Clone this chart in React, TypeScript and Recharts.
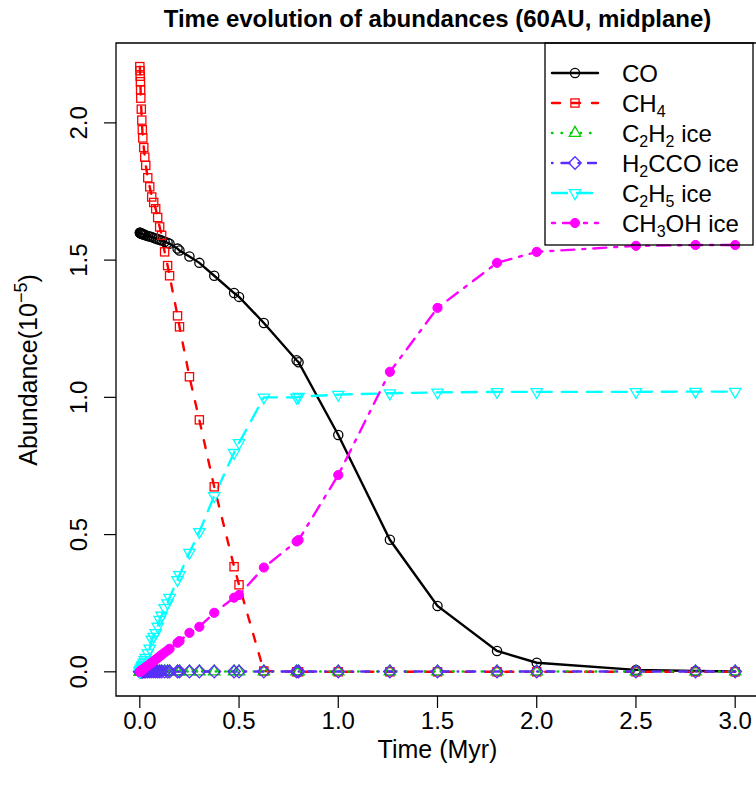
import React from "react";
import { LineChart, Line, XAxis, YAxis, ReferenceArea } from "recharts";

// time grid (Myr) shared by every species
const times = [
  0, 0.001, 0.002, 0.003, 0.004, 0.005, 0.0075, 0.01, 0.0125, 0.015,
  0.02, 0.025, 0.03, 0.04, 0.05, 0.06, 0.07, 0.08, 0.09, 0.1,
  0.11, 0.125, 0.14, 0.15, 0.19, 0.2, 0.25, 0.3, 0.375, 0.475,
  0.5, 0.625, 0.79, 0.8, 1.0, 1.26, 1.5, 1.8, 2.0, 2.5,
  2.8, 3.0,
];

// abundances in units of 1e-5
const co = [
  1.6, 1.6, 1.599, 1.599, 1.598, 1.598, 1.597, 1.596, 1.595, 1.594,
  1.593, 1.592, 1.59, 1.588, 1.586, 1.584, 1.581, 1.579, 1.576, 1.574,
  1.571, 1.567, 1.563, 1.56, 1.542, 1.535, 1.513, 1.49, 1.443, 1.38,
  1.366, 1.271, 1.135, 1.128, 0.863, 0.481, 0.24, 0.076, 0.033, 0.007,
  0.003, 0.001,
];
const ch4 = [
  2.205, 2.19, 2.17, 2.15, 2.12, 2.09, 2.05, 2.01, 1.975, 1.945,
  1.91, 1.875, 1.845, 1.8, 1.767, 1.73, 1.71, 1.687, 1.655, 1.621,
  1.59, 1.53, 1.48, 1.443, 1.297, 1.257, 1.075, 0.918, 0.674, 0.383,
  0.317, 0.003, 0, 0, 0, 0, 0, 0, 0, 0,
  0, 0,
];
const c2h2 = [
  0, 0.001, 0.001, 0.001, 0.001, 0.001, 0.001, 0.001, 0.001, 0.001,
  0.001, 0.001, 0.001, 0.001, 0.001, 0.001, 0.001, 0.001, 0.001, 0.001,
  0.001, 0.001, 0.001, 0.001, 0.001, 0.001, 0.001, 0.001, 0.001, 0.001,
  0.001, 0.001, 0.001, 0.001, 0.001, 0.001, 0.001, 0.001, 0.001, 0.001,
  0.001, 0.001,
];
const h2cco = [
  0, 0.001, 0.001, 0.001, 0.001, 0.001, 0.001, 0.001, 0.001, 0.001,
  0.001, 0.001, 0.001, 0.001, 0.001, 0.001, 0.001, 0.001, 0.001, 0.001,
  0.001, 0.001, 0.001, 0.001, 0.001, 0.001, 0.001, 0.001, 0.001, 0.001,
  0.001, 0.001, 0.001, 0.001, 0.001, 0.001, 0.001, 0.001, 0.001, 0.001,
  0.001, 0.001,
];
const c2h5 = [
  0, 0.002, 0.004, 0.005, 0.007, 0.009, 0.013, 0.017, 0.021, 0.026,
  0.034, 0.043, 0.051, 0.068, 0.085, 0.118, 0.128, 0.142, 0.165, 0.19,
  0.205, 0.233, 0.25, 0.27, 0.335, 0.353, 0.434, 0.51, 0.641, 0.798,
  0.834, 1.0, 1.0, 1.002, 1.01, 1.015, 1.018, 1.02, 1.02, 1.02,
  1.021, 1.021,
];
const ch3oh = [
  0, 0.001, 0.001, 0.002, 0.002, 0.003, 0.004, 0.006, 0.007, 0.008,
  0.011, 0.014, 0.017, 0.022, 0.028, 0.033, 0.039, 0.045, 0.05, 0.056,
  0.062, 0.07, 0.078, 0.084, 0.106, 0.112, 0.142, 0.164, 0.215, 0.27,
  0.28, 0.38, 0.475, 0.48, 0.717, 1.093, 1.326, 1.49, 1.53, 1.552,
  1.555, 1.555,
];

const xTicks = [0, 0.5, 1, 1.5, 2, 2.5, 3];
const yTicks = [0, 0.5, 1, 1.5, 2];

const rows = times.map((t, i) => ({
  t,
  co: co[i],
  ch4: ch4[i],
  c2h2: c2h2[i],
  h2cco: h2cco[i],
  c2h5: c2h5[i],
  ch3oh: ch3oh[i],
}));

const FONT = "'Liberation Sans', Arial, Helvetica, sans-serif";
const X_DOMAIN = [-0.12, 3.12];
const Y_DOMAIN = [-0.0881, 2.291];

type Kind = "circle" | "square" | "tri" | "diamond" | "triDown" | "dot";

function Mark({ kind, cx, cy, color }: { kind: Kind; cx: number; cy: number; color: string }) {
  const sw = 1.3;
  if (kind === "circle")
    return <circle cx={cx} cy={cy} r={4.6} fill="none" stroke={color} strokeWidth={sw} />;
  if (kind === "dot") return <circle cx={cx} cy={cy} r={4.6} fill={color} stroke={color} />;
  if (kind === "square")
    return <rect x={cx - 4.1} y={cy - 4.1} width={8.2} height={8.2} fill="none" stroke={color} strokeWidth={sw} />;
  if (kind === "diamond") {
    const d = 6.3;
    return (
      <polygon
        points={`${cx},${cy - d} ${cx + d},${cy} ${cx},${cy + d} ${cx - d},${cy}`}
        fill="none"
        stroke={color}
        strokeWidth={sw}
      />
    );
  }
  const r = 6.6;
  const hw = 5.7;
  const s = kind === "tri" ? 1 : -1;
  return (
    <polygon
      points={`${cx},${cy - s * r} ${cx + hw},${cy + (s * r) / 2} ${cx - hw},${cy + (s * r) / 2}`}
      fill="none"
      stroke={color}
      strokeWidth={sw}
    />
  );
}

const series = [
  { key: "co", kind: "circle" as Kind, color: "#000000", dash: undefined, label: ["CO"] },
  { key: "ch4", kind: "square" as Kind, color: "#ff0000", dash: "8 12", label: ["CH", "4", ""] },
  { key: "c2h2", kind: "tri" as Kind, color: "#00cd00", dash: "0.5 9", label: ["C", "2", "H", "2", " ice"] },
  { key: "h2cco", kind: "diamond" as Kind, color: "#5b2bff", dash: "0.5 9 8 9", label: ["H", "2", "CCO ice"] },
  { key: "c2h5", kind: "triDown" as Kind, color: "#00ffff", dash: "15 10", label: ["C", "2", "H", "5", " ice"] },
  { key: "ch3oh", kind: "dot" as Kind, color: "#ff00ff", dash: "3 8 13 8", label: ["CH", "3", "OH ice"] },
];

function YTick(props: any) {
  const { x, y, payload } = props;
  return (
    <text
      transform={`translate(${x - 17},${y}) rotate(-90)`}
      textAnchor="middle"
      fontSize={24}
      fontFamily={FONT}
      fill="#000"
    >
      {Number(payload.value).toFixed(1)}
    </text>
  );
}

function LegendText({ parts, x, y }: { parts: string[]; x: number; y: number }) {
  // odd positions are subscripts
  return (
    <text x={x} y={y} fontSize={24} fontFamily={FONT} fill="#000">
      {parts.map((p, i) =>
        i % 2 === 1 ? (
          <tspan key={i} fontSize={16} dy={5}>
            {p}
          </tspan>
        ) : (
          <tspan key={i} dy={i === 0 ? 0 : -5}>
            {p}
          </tspan>
        )
      )}
    </text>
  );
}

export default function App() {
  return (
    <div
      style={{
        position: "absolute",
        left: 0,
        top: 0,
        width: 756,
        height: 795,
        overflow: "hidden",
        background: "#fff",
      }}
    >
      <LineChart
        width={780}
        height={795}
        data={rows}
        margin={{ top: 43, right: 21, bottom: 39, left: 56 }}
      >
        <XAxis
          type="number"
          dataKey="t"
          domain={X_DOMAIN}
          allowDataOverflow
          ticks={xTicks}
          tickFormatter={(v: number) => v.toFixed(1)}
          tick={{ fontSize: 24, fill: "#000", fontFamily: FONT }}
          tickSize={12}
          tickMargin={4}
          tickLine={{ stroke: "#000", strokeWidth: 1.2 }}
          axisLine={false}
          height={60}
          interval={0}
        />
        <YAxis
          type="number"
          domain={Y_DOMAIN}
          allowDataOverflow
          ticks={yTicks}
          tick={<YTick />}
          tickSize={12}
          tickMargin={0}
          tickLine={{ stroke: "#000", strokeWidth: 1.2 }}
          axisLine={false}
          width={60}
          interval={0}
        />
        <ReferenceArea
          x1={X_DOMAIN[0]}
          x2={X_DOMAIN[1]}
          y1={Y_DOMAIN[0]}
          y2={Y_DOMAIN[1]}
          fill="none"
          stroke="#000"
          strokeWidth={1.3}
          ifOverflow="visible"
        />
        {series.map((s) => (
          <Line
            key={s.key}
            type="linear"
            dataKey={s.key}
            stroke={s.color}
            strokeWidth={2.4}
            strokeDasharray={s.dash}
            strokeLinecap="round"
            isAnimationActive={false}
            dot={(p: any) => (
              <Mark key={`${s.key}-${p.index}`} kind={s.kind} cx={p.cx} cy={p.cy} color={s.color} />
            )}
            activeDot={false}
          />
        ))}
      </LineChart>
      <svg
        width={756}
        height={795}
        style={{ position: "absolute", left: 0, top: 0, pointerEvents: "none" }}
      >
        <text x={437.5} y={27} textAnchor="middle" fontSize={24} fontWeight="bold" fontFamily={FONT}>
          Time evolution of abundances (60AU, midplane)
        </text>
        <text x={437.5} y={758} textAnchor="middle" fontSize={25} fontFamily={FONT}>
          Time (Myr)
        </text>
        <text
          transform="translate(37,370) rotate(-90)"
          textAnchor="middle"
          fontSize={25}
          fontFamily={FONT}
        >
          Abundance(10
          <tspan fontSize={18} dy={-10}>
            −5
          </tspan>
          <tspan dy={10}>)</tspan>
        </text>
        <rect x={545} y={43} width={208} height={202} fill="none" stroke="#000" strokeWidth={1.3} />
        {series.map((s, i) => {
          const y = 73 + i * 30;
          return (
            <g key={s.key}>
              <line
                x1={552}
                x2={598}
                y1={y}
                y2={y}
                stroke={s.color}
                strokeWidth={2.4}
                strokeDasharray={s.dash}
                strokeLinecap="round"
              />
              <Mark kind={s.kind} cx={575} cy={y} color={s.color} />
              <LegendText parts={s.label} x={622} y={y + 8.5} />
            </g>
          );
        })}
      </svg>
    </div>
  );
}
